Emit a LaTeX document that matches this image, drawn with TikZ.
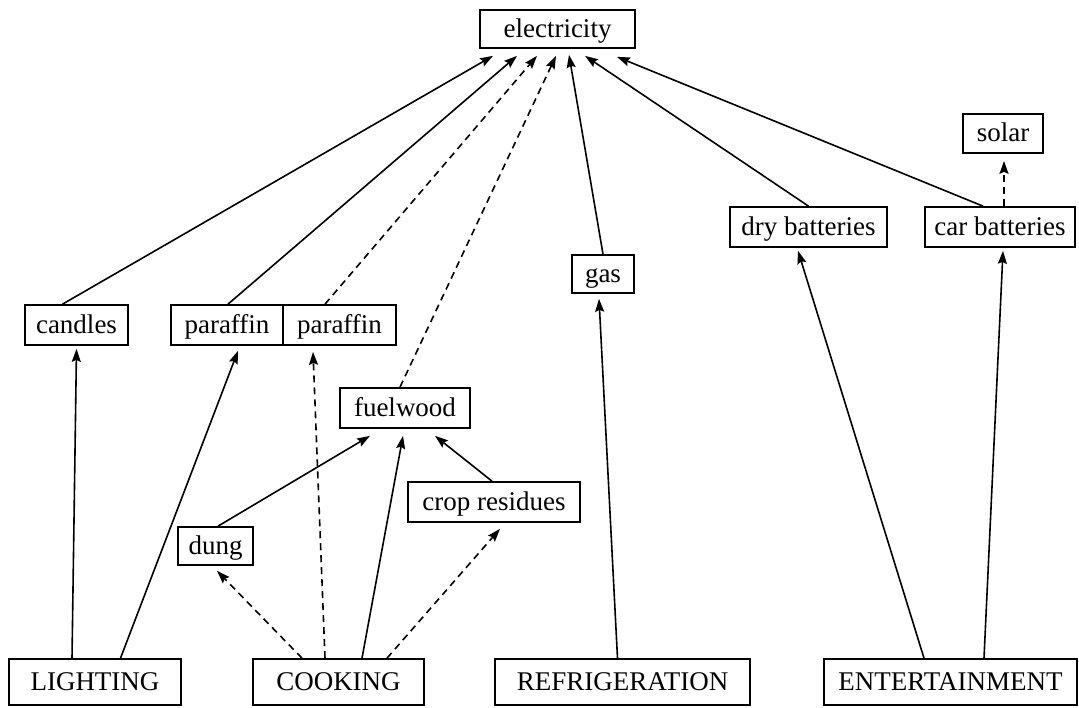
\documentclass[tikz,border=0pt]{standalone}
\usepackage{fontspec}
\setmainfont{Liberation Serif}
\usetikzlibrary{arrows.meta}
\begin{document}
\begin{tikzpicture}[x=1pt,y=-1pt,
  box/.style={draw, line width=1.7pt, inner sep=0pt, minimum height=40pt,
    text height=19pt, text depth=3pt, font=\fontsize{27pt}{30pt}\selectfont},
  arr/.style={line width=1.6pt, -{Stealth[length=13pt,width=9pt,inset=2pt]}},
  dsh/.style={arr, dash pattern=on 7pt off 5pt}]
\useasboundingbox (0,0) rectangle (1079,707);
% nodes
\node[box, minimum width=155pt, minimum height=38pt] (elec) at (557.5,29) {electricity};
\node[box, minimum width=103pt] (cand) at (76.5,325) {candles};
\node[box, minimum width=112pt] (par1) at (227,325) {paraffin};
\node[box, minimum width=113pt] (par2) at (339.5,325) {paraffin};
\node[box, minimum width=130pt] (fuel) at (405,408) {fuelwood};
\node[box, minimum width=172pt] (crop) at (494,502) {crop residues};
\node[box, minimum width=75pt, minimum height=38pt] (dung) at (215.5,546) {dung};
\node[box, minimum width=62pt, minimum height=38pt] (gas) at (603,274) {gas};
\node[box, minimum width=157pt] (dry) at (808.5,227) {dry batteries};
\node[box, minimum width=150pt] (car) at (1000,227) {car batteries};
\node[box, minimum width=80pt, minimum height=39pt] (solar) at (1003,133.5) {solar};
\node[box, minimum width=172pt, minimum height=46pt] (light) at (95,682) {LIGHTING};
\node[box, minimum width=171pt, minimum height=46pt] (cook) at (338.5,682) {COOKING};
\node[box, minimum width=255pt, minimum height=46pt] (refr) at (622.5,682) {REFRIGERATION};
\node[box, minimum width=253pt, minimum height=46pt] (ent) at (950.5,682) {ENTERTAINMENT};
% connectors to electricity
\draw[arr] ([xshift=-14pt]cand.north) -- ([xshift=-64.5pt,yshift=-7pt]elec.south);
\draw[arr] ([xshift=1pt]par1.north) -- ([xshift=-40.5pt,yshift=-7pt]elec.south);
\draw[dsh] ([xshift=-14.5pt]par2.north) -- ([xshift=-20.5pt,yshift=-7pt]elec.south);
\draw[dsh] ([xshift=-5pt]fuel.north) -- ([xshift=-1.5pt,yshift=-7pt]elec.south);
\draw[arr] (gas.north) -- ([xshift=11.5pt,yshift=-6pt]elec.south);
\draw[arr] (dry.north) -- ([xshift=27.5pt,yshift=-7pt]elec.south);
\draw[arr] ([xshift=-17pt]car.north) -- ([xshift=59.5pt,yshift=-8pt]elec.south);
\draw[dsh] ([xshift=4pt]car.north) -- ([xshift=1pt,yshift=-7pt]solar.south);
% lighting
\draw[arr] ([xshift=-23pt]light.north) -- ([yshift=-3pt]cand.south);
\draw[arr] ([xshift=25.5pt]light.north) -- ([xshift=11pt,yshift=-5pt]par1.south);
% cooking
\draw[dsh] ([xshift=-36.5pt]cook.north) -- ([xshift=1.5pt,yshift=-5pt]dung.south);
\draw[dsh] ([xshift=-13.5pt]cook.north) -- ([xshift=-26.5pt,yshift=-6pt]par2.south);
\draw[arr] ([xshift=23.5pt]cook.north) -- ([xshift=-2pt,yshift=-7pt]fuel.south);
\draw[dsh] ([xshift=48.5pt]cook.north) -- ([xshift=6pt,yshift=-6pt]crop.south);
\draw[arr] ([xshift=2.5pt]dung.north) -- ([xshift=-35pt,yshift=-7pt]fuel.south);
\draw[arr] ([xshift=-2pt]crop.north) -- ([xshift=30pt,yshift=-7pt]fuel.south);
% refrigeration
\draw[arr] ([xshift=-5pt]refr.north) -- ([xshift=-4pt,yshift=-5pt]gas.south);
% entertainment
\draw[arr] ([xshift=-26.5pt]ent.north) -- ([xshift=-10.5pt,yshift=-3pt]dry.south);
\draw[arr] ([xshift=33.5pt]ent.north) -- ([xshift=3pt,yshift=-3pt]car.south);
\end{tikzpicture}
\end{document}
